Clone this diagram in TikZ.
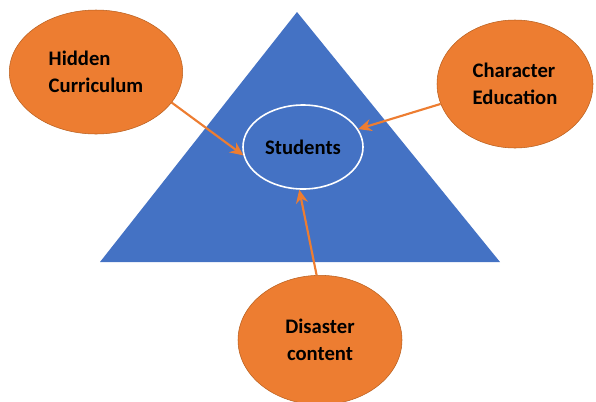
\documentclass[tikz,border=0pt]{standalone}
\usepackage{fontspec}
\setmainfont{Carlito}
\usetikzlibrary{shapes.geometric,arrows.meta}
\definecolor{triblue}{HTML}{4472C4}
\definecolor{bubble}{HTML}{ED7D31}
\definecolor{bubbleedge}{HTML}{B9601F}
\tikzstyle{bubble node}=[ellipse, draw=bubbleedge, fill=bubble, thin, inner sep=0pt, font=\bfseries\fontsize{15.5}{20}\selectfont]
\tikzstyle{link}=[draw=bubble, line width=1.6pt, -{Stealth[length=10pt,width=9pt]}]

\begin{document}
\begin{tikzpicture}[x=0.75pt, y=-0.75pt]
\useasboundingbox (0,0) rectangle (596,401);
% Triangle
    \fill[triblue] (297,12) -- (500,262) -- (100,262) -- cycle;
% Centre
    \node[ellipse, draw=white, line width=1.2pt, minimum width=90pt, minimum height=63pt,
          font=\bfseries\fontsize{15.5}{20}\selectfont] (students) at (303,147) {Students};
% Bubbles
    \node[bubble node, minimum width=130pt, minimum height=93pt, align=left] (hidden) at (96,72) {Hidden\\Curriculum};
    \node[bubble node, minimum width=117pt, minimum height=96pt, align=left] (character) at (515,84) {Character\\Education};
    \node[bubble node, minimum width=123pt, minimum height=97pt, align=center] (disaster) at (320,340) {Disaster\\content};
% Arrows
    \draw[link] (hidden.-22) -- (students.188);
    \draw[link] (character.195) -- (students.18);
    \draw[link] (disaster.93) -- (students.-95);
\end{tikzpicture}
\end{document}
